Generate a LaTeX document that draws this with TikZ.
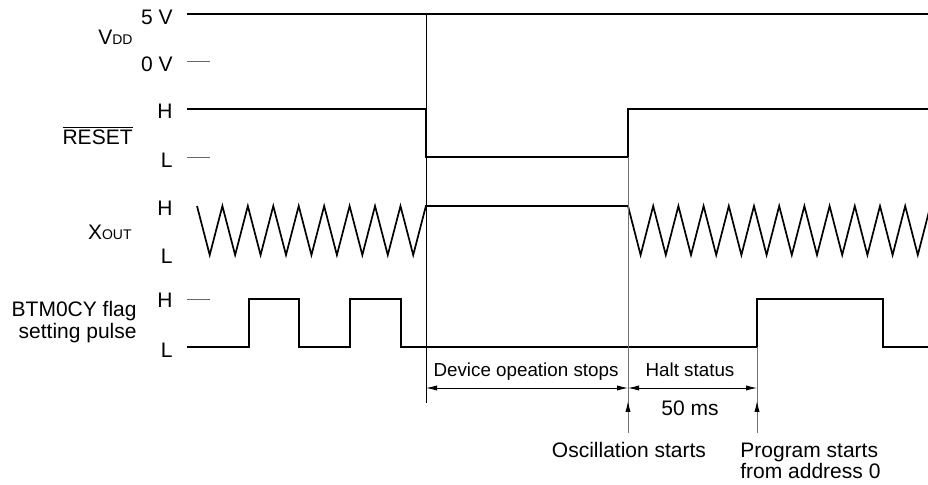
\documentclass[tikz,border=0pt]{standalone}
\usepackage{fontspec}
\setmainfont{Liberation Sans}
\usetikzlibrary{arrows.meta}
\tikzset{
  sig/.style={line width=0.85pt, line join=miter},
  guide/.style={line width=0.45pt, black!55},
  marker/.style={line width=0.4pt, black!60},
  dimarrow/.style={line width=0.4pt, {Latex[length=5.5pt,width=2.6pt]}-{Latex[length=5.5pt,width=2.6pt]}},
  uparrow/.style={line width=0.45pt, black!55, -{Latex[length=5.5pt,width=2.6pt,color=black]}},
  lbl/.style={inner sep=0pt, font=\fontsize{10.5}{12.5}\selectfont},
  dimlbl/.style={inner sep=0pt, font=\fontsize{9.4}{11}\selectfont}
}
\newcommand{\subcap}[1]{{\fontsize{7}{8}\selectfont #1}}

\begin{document}
\begin{tikzpicture}[x=0.5pt, y=-0.5pt]
    \useasboundingbox (0,0) rectangle (928,485);

    % Signal names and levels
    \node[lbl, anchor=base east] (v5)    at (173,25)  {5 V};
    \node[lbl, anchor=base east] (vdd)   at (133,45)  {V\subcap{DD}};
    \node[lbl, anchor=base east] (v0)    at (173,72)  {0 V};
    \node[lbl, anchor=base east] (rH)    at (173,119) {H};
    \node[lbl, anchor=base east] (reset) at (133,145) {$\overline{\mbox{RESET}}$};
    \node[lbl, anchor=base east] (rL)    at (173,168) {L};
    \node[lbl, anchor=base east] (xH)    at (173,216) {H};
    \node[lbl, anchor=base east] (xout)  at (132,240) {X\subcap{OUT}};
    \node[lbl, anchor=base east] (xL)    at (173,264) {L};
    \node[lbl, anchor=base east] (bH)    at (173,308) {H};
    \node[lbl, anchor=base east] (btm1)  at (137,317) {BTM0CY flag};
    \node[lbl, anchor=base east] (btm2)  at (137,339) {setting pulse};
    \node[lbl, anchor=base east] (bL)    at (173,358) {L};

    % Level ticks
    \draw[marker] (187,61) -- (210,61);
    \draw[marker] (187,157) -- (210,157);
    \draw[marker] (187,299) -- (210,299);

    % VDD
    \draw[sig] (187,14) -- (928,14);

    % RESET
    \draw[sig] (187,109) -- (426,109) -- (426,157) -- (628,157) -- (628,109) -- (928,109);

    % XOUT
    \begin{scope}
      \clip (0,0) rectangle (928,485);
      \draw[sig] (197,206) \foreach \i in {0,...,8} { -- ({209.7+25.44*\i},255) -- ({222.4+25.44*\i},206) }
        -- (628,206) \foreach \i in {0,...,11} { -- ({640.6+25.2*\i},255) -- ({653.2+25.2*\i},206) };
    \end{scope}

    % BTM0CY pulses
    \draw[sig] (187,347) -- (249,347) -- (249,299) -- (299,299) -- (299,347) -- (350,347) -- (350,299)
      -- (401,299) -- (401,347) -- (757,347) -- (757,299) -- (883,299) -- (883,347) -- (928,347);

    % Time marks
    \coordinate (tS) at (426,388);
    \coordinate (tO) at (628,388);
    \coordinate (tP) at (757,388);
    \coordinate (oscB) at (628,433);
    \coordinate (oscT) at (628,401);
    \coordinate (progB) at (757,433);
    \coordinate (progT) at (757,401);

    \draw[line width=0.4pt] (426,14) -- (426,403);
    \draw[guide] (628,157) -- (oscB);
    \draw[guide] (757,347) -- (progB);

    % Intervals
    \draw[dimarrow] (tS) -- (tO);
    \draw[dimarrow] (tO) -- (tP);
    \node[dimlbl, anchor=base] (stops) at (526,377) {Device opeation stops};
    \node[dimlbl, anchor=base] (halt)  at (690,377) {Halt status};
    \node[lbl, anchor=base]    (ms)    at (690,416) {50 ms};

    % Events
    \draw[uparrow] (oscB) -- (oscT);
    \draw[uparrow] (progB) -- (progT);
    \node[lbl, anchor=base]      (osc)   at (629,458) {Oscillation starts};
    \node[lbl, anchor=base west] (prog1) at (740,458) {Program starts};
    \node[lbl, anchor=base west] (prog2) at (740,479) {from address 0};

\end{tikzpicture}
\end{document}
